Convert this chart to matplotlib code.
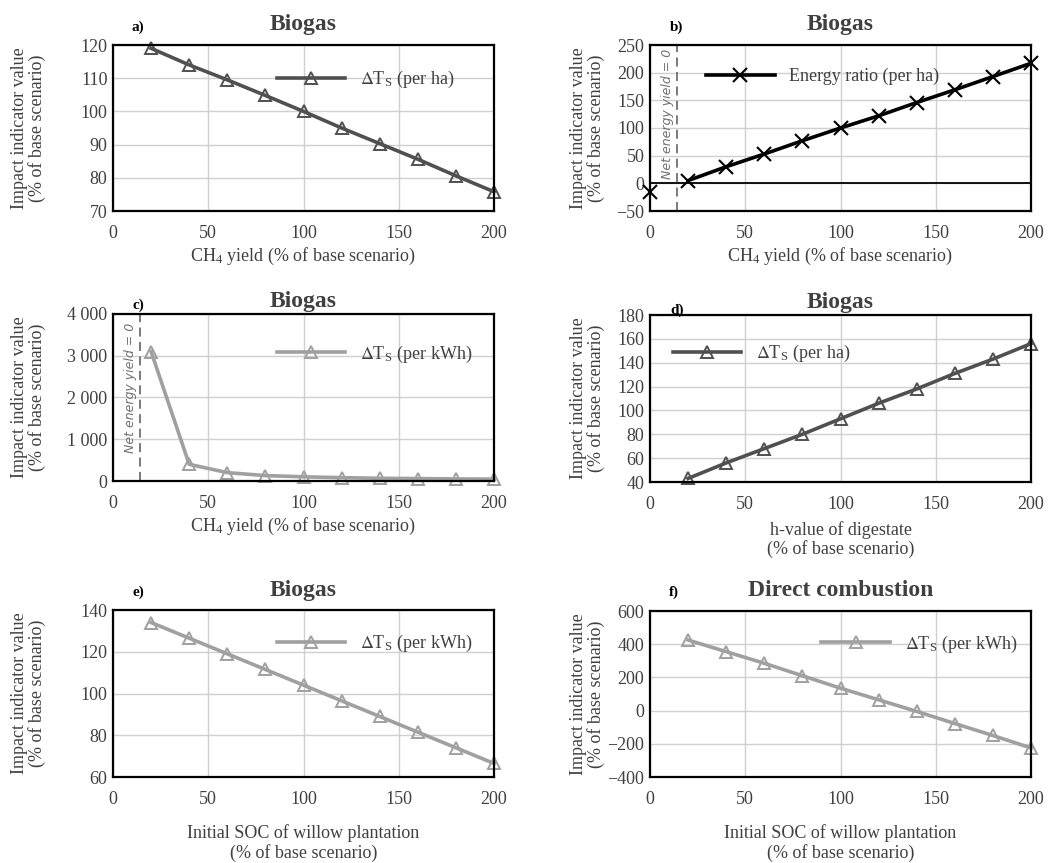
import matplotlib
matplotlib.use("Agg")
import matplotlib.pyplot as plt
from matplotlib.ticker import FuncFormatter

plt.rcParams['font.family'] = ['Liberation Serif', 'DejaVu Serif']
plt.rcParams['mathtext.fontset'] = 'stix'

# data
x = [20, 40, 60, 80, 100, 120, 140, 160, 180, 200]
a_y = [119, 114, 109.5, 104.8, 100, 95, 90.3, 85.6, 80.6, 75.8]
b_x0, b_y0 = 0, -15
b_y = [5, 30, 53, 77, 100, 122, 146, 169, 193, 217]
c_y = [3100, 400, 200, 130, 100, 80, 65, 58, 50, 45]
d_y = [43, 56, 68, 80, 93, 106, 118, 131, 143, 156]
e_y = [134, 126.5, 119, 111.5, 104, 96.5, 89, 81.5, 74, 66.5]
f_y = [425, 355, 285, 210, 135, 65, -5, -78, -150, -225]
net_zero_x = 14

DARK = '#505050'
LIGHT = '#a0a0a0'
TXT = '#404040'
FS = 13
dT = r'$\Delta$T$_{\mathregular{S}}$'

W, H = 1050, 863
fig = plt.figure(figsize=(W / 100, H / 100), dpi=100)


def make_ax(l, t, r, b):
    return fig.add_axes([l / W, (H - b) / H, (r - l) / W, (b - t) / H])


def style(ax, letter, lpos, title, tpad, xlabel, xpad, ylx, ylim, yticks, fmt=None):
    ax.set_xlim(0, 200)
    ax.set_xticks([0, 50, 100, 150, 200])
    ax.set_ylim(*ylim)
    ax.set_yticks(yticks)
    if fmt:
        ax.yaxis.set_major_formatter(FuncFormatter(fmt))
    ax.grid(True, color='#d0d0d0', linewidth=1.0)
    ax.set_axisbelow(True)
    ax.tick_params(length=0, labelsize=FS, labelcolor=TXT)
    ax.tick_params(axis='x', pad=10)
    ax.tick_params(axis='y', pad=4)
    for s in ax.spines.values():
        s.set_linewidth(1.6)
        s.set_color('black')
    ax.set_title(title, fontsize=17, fontweight='bold', color=TXT, pad=tpad)
    ax.text(lpos[0], lpos[1], letter, transform=ax.transAxes, fontsize=11,
            fontweight='bold', ha='center', va='center')
    ax.set_xlabel(xlabel, fontsize=FS, color=TXT, labelpad=xpad, linespacing=1.1)
    ax.set_ylabel('Impact indicator value\n(% of base scenario)', fontsize=FS,
                  color=TXT, linespacing=1.0)
    ax.yaxis.set_label_coords(ylx, 0.5)


def legend(ax, xa, ya):
    lg = ax.legend(loc='center left', bbox_to_anchor=(xa, ya), frameon=False,
                   fontsize=FS, handlelength=3.8, handletextpad=0.8,
                   borderpad=0, borderaxespad=0)
    for t in lg.get_texts():
        t.set_color(TXT)


def net_line(ax, y_text):
    ax.axvline(net_zero_x, color='#707070', linestyle=(0, (5, 3)), linewidth=1.3)
    ax.text(net_zero_x - 1.2, y_text, 'Net energy yield = 0', rotation=90,
            fontsize=9, style='italic', family=['DejaVu Sans'], color='#707070',
            ha='right', va='top')


def tri(ax, y, col, lab):
    ax.plot(x, y, color=col, lw=2.6, marker='^', ms=9, mfc='none', mec=col,
            mew=1.4, label=lab, clip_on=False)


ch4 = r'CH$_{\mathregular{4}}$ yield (% of base scenario)'
soc = 'Initial SOC of willow plantation\n(% of base scenario)'
sp = lambda v, p: f'{int(v):,}'.replace(',', ' ').replace('-', '\u2212')
mn = lambda v, p: f'{int(v)}'.replace('-', '\u2212')
YL, YR = -0.176, -0.118

# a
ax = make_ax(113, 45, 494, 211)
tri(ax, a_y, DARK, dT + ' (per ha)')
style(ax, 'a)', (0.066, 1.108), 'Biogas', 11, ch4, 3, YL, (70, 120), range(70, 121, 10))
legend(ax, 0.43, 0.79)

# b
ax = make_ax(650, 45, 1031, 211)
ax.axhline(0, color='black', lw=1.3)
net_line(ax, 243)
ax.plot(x, b_y, color='black', lw=2.6, marker='x', ms=10, mew=1.5,
        label='Energy ratio (per ha)', clip_on=False)
ax.plot([b_x0], [b_y0], ls='none', color='black', marker='x', ms=10, mew=1.5,
        clip_on=False)
style(ax, 'b)', (0.07, 1.108), 'Biogas', 11, ch4, 3, YR, (-50, 250), range(-50, 251, 50), mn)
legend(ax, 0.147, 0.81)

# c
ax = make_ax(113, 314, 494, 481)
net_line(ax, 3800)
tri(ax, c_y, LIGHT, dT + ' (per kWh)')
style(ax, 'c)', (0.066, 1.054), 'Biogas', 5, ch4, 3, YL, (0, 4000), range(0, 4001, 1000), sp)
legend(ax, 0.43, 0.76)

# d
ax = make_ax(650, 315, 1031, 482)
tri(ax, d_y, DARK, dT + ' (per ha)')
style(ax, 'd)', (0.07, 1.03), 'Biogas', 5, 'h-value of digestate\n(% of base scenario)',
      6, YR, (40, 180), range(40, 181, 20))
legend(ax, 0.06, 0.77)

# e
ax = make_ax(113, 610, 494, 777)
tri(ax, e_y, LIGHT, dT + ' (per kWh)')
style(ax, 'e)', (0.066, 1.108), 'Biogas', 10, soc, 12, YL, (60, 140), range(60, 141, 20))
legend(ax, 0.43, 0.80)

# f
ax = make_ax(650, 611, 1031, 777)
tri(ax, f_y, LIGHT, dT + ' (per kWh)')
style(ax, 'f)', (0.063, 1.114), 'Direct combustion', 11, soc, 12, YR,
      (-400, 600), range(-400, 601, 200), mn)
legend(ax, 0.45, 0.80)

fig.savefig('out.png', dpi=100)
